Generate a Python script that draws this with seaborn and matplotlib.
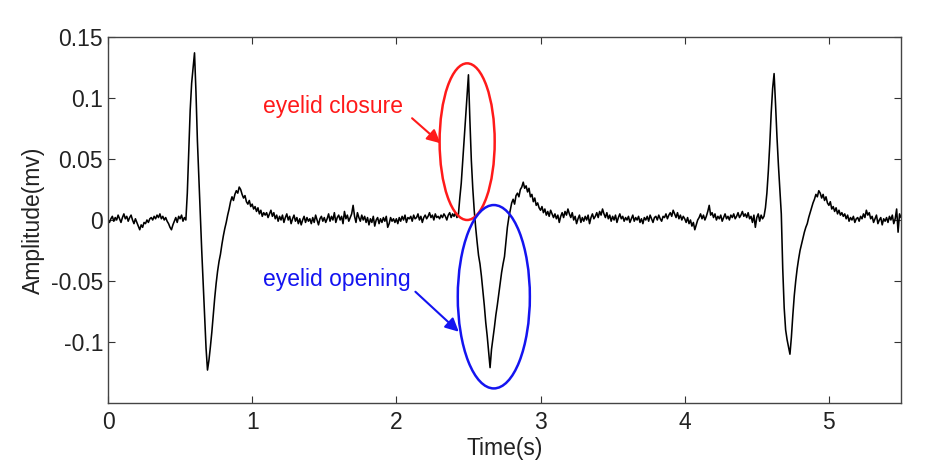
#!/usr/bin/env python3
"""
EOG blink trace with eyelid closure / opening marked.
"""

import numpy as np
import pandas as pd
import matplotlib
matplotlib.use('Agg')
import matplotlib.pyplot as plt
from matplotlib.patches import Ellipse
import seaborn as sns

# Sampling interval of the trace (s)
DT = 0.01

# Amplitude, in units of 0.001 mV, one row per 0.1 s
amp_thousandths = [
    0, -2, 1, 3, -1, 2, 0, 4, 1, -2,
    2, 5, 1, 3, -1, 2, 4, 0, -3, 1,
    -2, -5, -8, -4, -6, -2, -3, 0, -2, 1,
    2, 0, 3, 1, 4, 2, 5, 1, 3, 0,
    2, -1, -3, -6, -8, -4, -1, 2, -2, 3,
    1, 4, -1, 2, 0, 22, 55, 90, 112, 125,
    137, 105, 65, 35, 4, -25, -52, -80, -105, -123,
    -115, -104, -92, -78, -64, -52, -42, -34, -28, -20,
    -13, -7, -2, 4, 9, 15, 19, 16, 21, 24,
    22, 27, 25, 21, 18, 20, 15, 13, 16, 11,
    13, 9, 11, 7, 10, 5, 8, 3, 6, 4,
    6, 2, 5, 8, 3, 6, 1, 4, -1, 3,
    0, 4, -2, 2, 5, 0, 3, -3, 1, 4,
    -1, 2, -3, 1, -4, 0, 3, -2, 2, -1,
    1, -3, 2, -2, 4, 0, -4, 1, 3, -1,
    2, -2, 1, 5, -1, 3, 0, 6, -2, 2,
    4, 0, 3, -3, 7, 1, 4, -1, 2, 5,
    12, 3, -2, 6, 2, -1, 4, 0, 3, -2,
    2, -4, 1, -2, 3, -5, 0, 2, -3, 1,
    -2, 2, -1, 3, -6, -3, 2, -1, 1, -2,
    1, -3, 2, -1, 3, 0, 4, -2, 2, 1,
    3, -1, 4, 1, 2, 5, 0, 3, -2, 2,
    4, 1, 3, 6, 2, 4, 0, 5, 2, 3,
    1, 4, 2, 5, 3, 0, 4, 6, 2, 5,
    3, 6, 2, 4, 18, 30, 48, 66, 85, 103,
    119, 82, 49, 26, 8, -6, -18, -29, -36, -46,
    -58, -70, -84, -95, -108, -121, -106, -97, -88, -78,
    -70, -61, -52, -43, -36, -30, -18, -6, 2, 8,
    14, 17, 13, 20, 22, 19, 25, 27, 31, 26,
    28, 23, 26, 19, 21, 15, 18, 12, 14, 10,
    8, 11, 6, 9, 4, 7, 3, 8, 5, 2,
    5, 1, 4, -2, 3, 6, 2, 7, 4, 9,
    5, 2, 6, 0, 3, -3, 1, 4, -2, 2,
    -1, 3, 0, 4, -3, 2, 5, 1, 3, 6,
    2, 7, 4, 9, 5, 2, 6, 1, 4, -1,
    3, 0, 4, -2, 2, 5, 1, 3, -1, 2,
    0, 3, -2, 1, 4, -1, 2, 0, 3, -2,
    1, -3, 2, 0, 3, -1, 4, 1, -2, 2,
    3, 0, 4, 1, -1, 3, 2, 5, 1, 4,
    6, 3, 8, 5, 2, 6, 1, 4, 0, 3,
    1, -2, 2, -3, 0, -5, -2, -8, -4, 0,
    2, 5, 1, 4, 0, 3, 7, 12, 4, 6,
    2, 5, 0, 3, 1, 4, -1, 2, 5, 1,
    3, 0, 4, 2, 5, 1, 3, 6, 2, 4,
    7, 3, 5, 2, 6, 1, 3, -2, 4, -6,
    2, 5, -1, 4, 1, 3, 10, 22, 40, 62,
    88, 108, 120, 95, 68, 45, 25, 5, -40, -72,
    -90, -98, -104, -110, -96, -78, -62, -50, -40, -32,
    -25, -20, -15, -10, -6, -3, 2, 6, 10, 14,
    17, 21, 19, 24, 22, 18, 21, 16, 19, 14,
    12, 15, 9, 11, 7, 10, 5, 8, 4, 6,
    3, 5, 1, 4, -1, 2, 0, 3, -2, 1,
    2, -1, 3, 1, 5, 2, 8, 4, 6, 1,
    3, -2, 1, 4, -3, 0, 2, -4, 1, -1,
    2, -2, 3, 0, 4, -3, 1, 9, -10, 5,
    2,
]

x_ticks = [0, 1, 2, 3, 4, 5]
y_ticks = [-0.1, -0.05, 0, 0.05, 0.1, 0.15]
y_tick_labels = ['-0.1', '-0.05', '0', '0.05', '0.1', '0.15']

# Marked events: (label, colour, ellipse centre t, centre amp, width s, height mV)
closure = ('eyelid closure', '#ff1a1a', 2.491, 0.0642, 0.382, 0.1284)
opening = ('eyelid opening', '#1414f0', 2.676, -0.0629, 0.50, 0.1503)
# Label anchor (t, amp) and arrow tail / head (t, amp)
closure_text = (1.076, 0.0929)
closure_arrow = ((2.109, 0.0834), (2.306, 0.0629))
opening_text = (1.074, -0.049)
opening_arrow = ((2.132, -0.0588), (2.433, -0.0916))

sns.set_style("ticks")
plt.rcParams['font.family'] = ['Liberation Sans', 'DejaVu Sans']


def main():
    df = pd.DataFrame({
        'time': np.arange(len(amp_thousandths)) * DT,
        'amp': np.array(amp_thousandths) / 1000.0,
    })

    fig = plt.figure(figsize=(9.45, 4.73), dpi=100)
    ax = fig.add_axes([0.1143, 0.148, 0.8391, 0.7738])

    sns.lineplot(data=df, x='time', y='amp', ax=ax, color='black',
                 linewidth=1.15, estimator=None, sort=False)

    for (label, colour, cx, cy, w, h), (tx, ty), (tail, head) in [
            (closure, closure_text, closure_arrow),
            (opening, opening_text, opening_arrow)]:
        ax.add_patch(Ellipse((cx, cy), w, h, fill=False, edgecolor=colour,
                             linewidth=1.8, zorder=3))
        ax.text(tx, ty, label, color=colour, fontsize=16.5,
                ha='left', va='center')
        ax.annotate('', xy=head, xytext=tail,
                    arrowprops=dict(arrowstyle='-|>', color=colour, lw=1.5,
                                    mutation_scale=20, shrinkA=0, shrinkB=0))

    ax.set_xlim(0, 5.5)
    ax.set_ylim(-0.15, 0.15)
    ax.set_xticks(x_ticks)
    ax.set_xticklabels([str(v) for v in x_ticks])
    ax.set_yticks(y_ticks)
    ax.set_yticklabels(y_tick_labels)
    ax.tick_params(direction='in', length=5, width=0.8, colors='#333333',
                   labelcolor='#222222', labelsize=16.5,
                   top=True, right=True)
    ax.tick_params(axis='x', pad=6)
    ax.set_xlabel('Time(s)', fontsize=16.5, color='#222222', labelpad=2)
    ax.set_ylabel('Amplitude(mv)', fontsize=16.5, color='#222222', labelpad=4)
    for spine in ax.spines.values():
        spine.set_visible(True)
        spine.set_color('#444444')
        spine.set_linewidth(1.0)

    fig.savefig('out.png', dpi=100)
    plt.close(fig)


if __name__ == "__main__":
    main()
